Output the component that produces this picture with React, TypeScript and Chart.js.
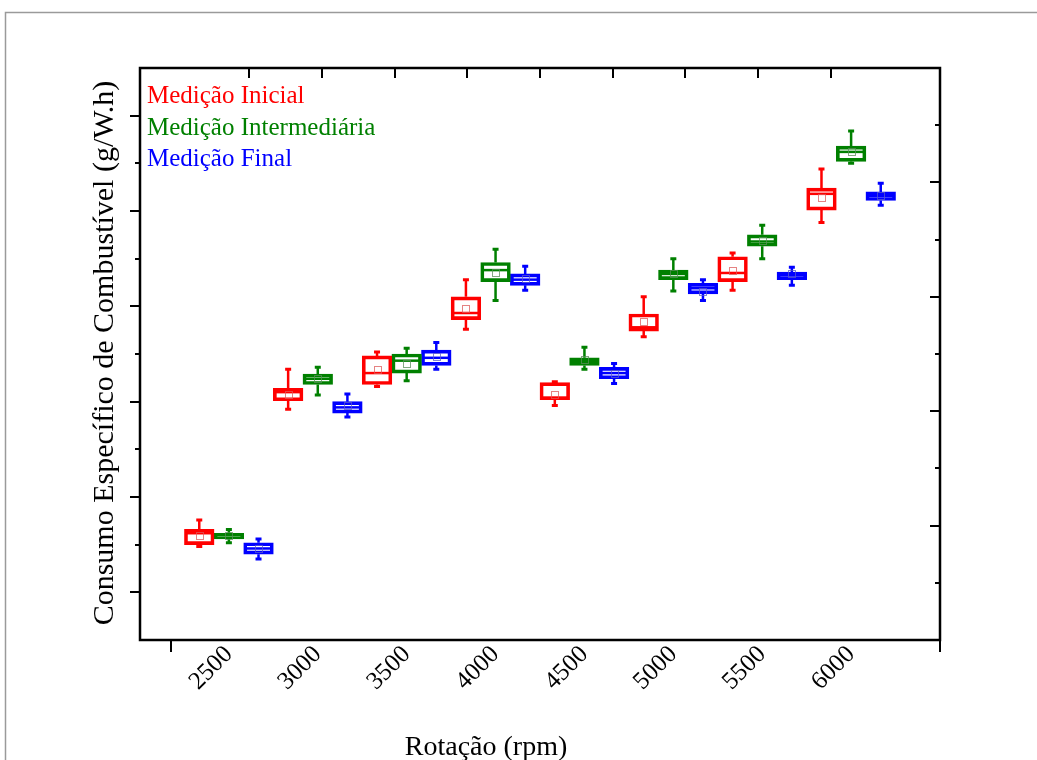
import React, { useEffect, useRef } from 'react';
import { Chart, registerables } from 'chart.js';

Chart.register(...registerables);

const rpmLabels = ['2500', '3000', '3500', '4000', '4500', '5000', '5500', '6000'];
const seriesNames = ['Medição Inicial', 'Medição Intermediária', 'Medição Final'];
const seriesColors = ['#ff0000', '#008000', '#0000ff'];
const meanColors = ['rgba(220,90,90,0.75)', 'rgba(90,140,90,0.75)', 'rgba(90,90,200,0.75)'];

// [whisker min, Q1, median, Q3, whisker max]  (g/W.h)
const inicialBoxes = [
  [0.324, 0.325, 0.331, 0.333, 0.338],
  [0.396, 0.4005, 0.405, 0.407, 0.417],
  [0.408, 0.409, 0.415, 0.424, 0.426],
  [0.438, 0.443, 0.4465, 0.455, 0.464],
  [0.398, 0.401, 0.402, 0.41, 0.4105],
  [0.434, 0.437, 0.439, 0.446, 0.455],
  [0.4585, 0.463, 0.4675, 0.476, 0.478],
  [0.494, 0.5005, 0.509, 0.512, 0.522],
];
const inicialMeans = [0.33, 0.404, 0.417, 0.449, 0.404, 0.442, 0.469, 0.507];

const intermediariaBoxes = [
  [0.326, 0.328, 0.33, 0.331, 0.333],
  [0.4035, 0.409, 0.412, 0.4145, 0.418],
  [0.411, 0.415, 0.4215, 0.425, 0.428],
  [0.453, 0.463, 0.469, 0.473, 0.48],
  [0.417, 0.419, 0.421, 0.423, 0.4285],
  [0.458, 0.464, 0.467, 0.469, 0.475],
  [0.475, 0.4815, 0.484, 0.4875, 0.4925],
  [0.525, 0.526, 0.531, 0.534, 0.542],
];
const intermediariaMeans = [0.33, 0.412, 0.42, 0.4675, 0.422, 0.467, 0.4845, 0.531];

const finalBoxes = [
  [0.3175, 0.32, 0.323, 0.326, 0.328],
  [0.392, 0.394, 0.397, 0.4, 0.404],
  [0.417, 0.419, 0.423, 0.427, 0.431],
  [0.4585, 0.461, 0.464, 0.467, 0.471],
  [0.4095, 0.412, 0.415, 0.418, 0.42],
  [0.453, 0.4565, 0.4595, 0.462, 0.464],
  [0.461, 0.464, 0.4665, 0.468, 0.4705],
  [0.503, 0.5055, 0.508, 0.51, 0.5145],
];
const finalMeans = [0.323, 0.398, 0.4235, 0.4645, 0.415, 0.458, 0.467, 0.508];

const yMin = 0.275;
const yMax = 0.575;
const yTickStep = 0.025;

const xTitle = 'Rotação (rpm)';
const yTitle = 'Consumo Específico de Combustível (g/W.h)';

const SERIF = "'Liberation Serif', 'Times New Roman', serif";

const allBoxes = [inicialBoxes, intermediariaBoxes, finalBoxes];
const allMeans = [inicialMeans, intermediariaMeans, finalMeans];

const decorPlugin = {
  id: 'boxDecor',
  beforeDraw(chart: any) {
    const ctx = chart.ctx;
    ctx.save();
    ctx.fillStyle = '#ffffff';
    ctx.fillRect(0, 0, chart.width, chart.height);
    ctx.strokeStyle = '#9a9a9a';
    ctx.lineWidth = 1.5;
    ctx.strokeRect(5.5, 12.5, 1200, 900);
    ctx.restore();
  },
  afterDatasetsDraw(chart: any) {
    const ctx = chart.ctx;
    const yScale = chart.scales.y;
    const y2 = chart.scales.y2;
    const xTop = chart.scales.xTop;
    const { left, right, top, bottom } = chart.chartArea;
    ctx.save();

    // whiskers, medians, means
    chart.data.datasets.forEach((ds: any, di: number) => {
      const meta = chart.getDatasetMeta(di);
      meta.data.forEach((bar: any, j: number) => {
        const st = ds.stats[j];
        if (!st) return;
        const { x, width } = bar.getProps(['x', 'width'], true);
        const p = st.map((v: number) => yScale.getPixelForValue(v));
        ctx.strokeStyle = seriesColors[di];
        ctx.lineWidth = 2.5;
        ctx.beginPath();
        ctx.moveTo(x, p[3]);
        ctx.lineTo(x, p[4]);
        ctx.moveTo(x, p[1]);
        ctx.lineTo(x, p[0]);
        ctx.stroke();
        ctx.lineWidth = 3;
        ctx.beginPath();
        ctx.moveTo(x - 3, p[4]);
        ctx.lineTo(x + 3, p[4]);
        ctx.moveTo(x - 3, p[0]);
        ctx.lineTo(x + 3, p[0]);
        ctx.stroke();
        ctx.lineWidth = 2.5;
        ctx.beginPath();
        ctx.moveTo(x - width / 2 + 1, p[2]);
        ctx.lineTo(x + width / 2 - 1, p[2]);
        ctx.stroke();
        const m = ds.means[j];
        const my = yScale.getPixelForValue(m);
        ctx.strokeStyle = meanColors[di];
        ctx.lineWidth = 1;
        ctx.strokeRect(Math.round(x - 3.5) + 0.5, Math.round(my - 3.5) + 0.5, 7, 7);
      });
    });

    // frame
    ctx.strokeStyle = '#000';
    ctx.lineWidth = 2.5;
    ctx.strokeRect(left, top, right - left, bottom - top);

    // left ticks (outward)
    ctx.lineWidth = 2;
    for (let i = 0; i <= 10; i++) {
      const v = yMin + yTickStep * (i + 1);
      const yy = Math.round(yScale.getPixelForValue(v));
      const len = i % 2 === 0 ? 10 : 5;
      ctx.beginPath();
      ctx.moveTo(left - len, yy);
      ctx.lineTo(left, yy);
      ctx.stroke();
    }
    // right ticks (inward)
    for (let v = 1; v <= 9; v++) {
      const yy = Math.round(y2.getPixelForValue(v));
      const len = v % 2 === 0 ? 10 : 5;
      ctx.beginPath();
      ctx.moveTo(right - len, yy);
      ctx.lineTo(right, yy);
      ctx.stroke();
    }
    // top ticks (inward)
    for (let v = 1; v <= 9; v++) {
      const xx = Math.round(xTop.getPixelForValue(v));
      ctx.beginPath();
      ctx.moveTo(xx, top);
      ctx.lineTo(xx, top + 10);
      ctx.stroke();
    }
    // bottom ticks (outward)
    ctx.beginPath();
    ctx.moveTo(left + 31, bottom);
    ctx.lineTo(left + 31, bottom + 12);
    ctx.moveTo(right, bottom);
    ctx.lineTo(right, bottom + 12);
    ctx.stroke();

    // legend (coloured text)
    ctx.font = `25px ${SERIF}`;
    ctx.textAlign = 'left';
    ctx.textBaseline = 'alphabetic';
    seriesNames.forEach((name, i) => {
      ctx.fillStyle = seriesColors[i];
      ctx.fillText(name, left + 7, top + 35 + i * 31.5);
    });

    // axis titles
    ctx.fillStyle = '#000';
    ctx.font = `28px ${SERIF}`;
    ctx.textAlign = 'center';
    ctx.fillText(xTitle, 486, 755);

    ctx.save();
    ctx.translate(113, (top + bottom) / 2 - 1);
    ctx.rotate(-Math.PI / 2);
    ctx.font = `30px ${SERIF}`;
    ctx.textAlign = 'center';
    ctx.textBaseline = 'alphabetic';
    ctx.fillText(yTitle, 0, 0);
    ctx.restore();

    ctx.restore();
  },
};

export default function App() {
  const canvasRef = useRef<HTMLCanvasElement | null>(null);

  useEffect(() => {
    const canvas = canvasRef.current;
    if (!canvas) return;
    const labels = ['', ...rpmLabels, ''];
    const datasets = seriesNames.map((name, i) => ({
      label: name,
      data: [null, ...allBoxes[i].map((b) => [b[1], b[3]]), null],
      stats: [null, ...allBoxes[i], null],
      means: [null, ...allMeans[i], null],
      backgroundColor: 'rgba(0,0,0,0)',
      borderColor: seriesColors[i],
      borderWidth: 3,
      borderSkipped: false,
      categoryPercentage: 1,
      barPercentage: 1,
    }));

    const chart = new Chart(canvas, {
      type: 'bar',
      data: { labels, datasets } as any,
      plugins: [decorPlugin],
      options: {
        responsive: false,
        animation: false,
        events: [],
        layout: { padding: { top: 68, right: 97, left: 0, bottom: 0 } },
        plugins: { legend: { display: false }, tooltip: { enabled: false } },
        scales: {
          x: {
            type: 'category',
            offset: false,
            grid: { display: false },
            border: { display: false },
            ticks: {
              autoSkip: false,
              minRotation: 45,
              maxRotation: 45,
              padding: -8,
              color: '#000',
              font: { family: SERIF, size: 25 },
            },
            afterFit: (s: any) => {
              s.height = 120;
            },
          },
          xTop: {
            type: 'linear',
            position: 'top',
            display: false,
            min: 0,
            max: 10,
          },
          y: {
            type: 'linear',
            min: yMin,
            max: yMax,
            grid: { display: false },
            border: { display: false },
            ticks: { display: false, stepSize: yTickStep },
            afterFit: (s: any) => {
              s.width = 140;
            },
          },
          y2: {
            type: 'linear',
            position: 'right',
            display: false,
            min: 0,
            max: 10,
          },
        },
      } as any,
    });
    return () => chart.destroy();
  }, []);

  return (
    <div style={{ position: 'fixed', left: 0, top: 0, width: 1037, height: 760, background: '#fff' }}>
      <canvas ref={canvasRef} width={1037} height={760} style={{ display: 'block', width: 1037, height: 760 }} />
    </div>
  );
}
